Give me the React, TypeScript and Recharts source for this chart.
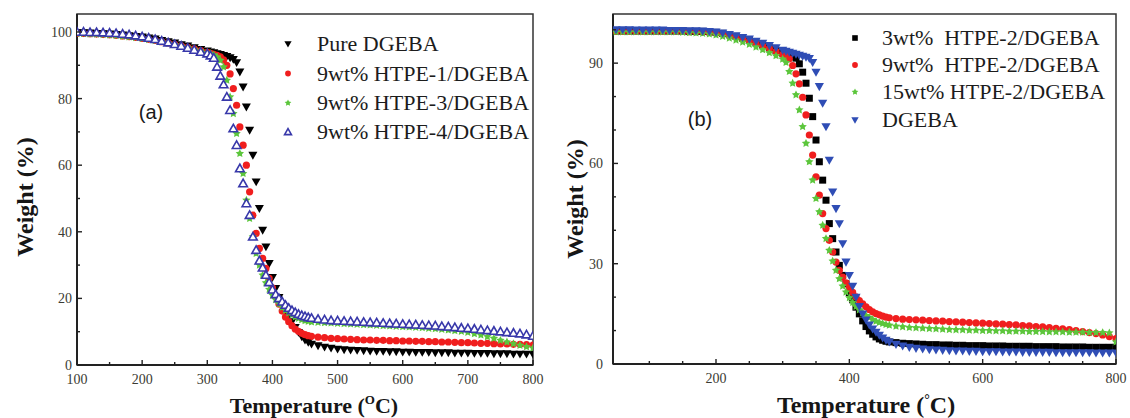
import React from "react";
import { ScatterChart, Scatter, XAxis, YAxis, ReferenceArea, Legend } from "recharts";

const SERIF = "Liberation Serif, Times New Roman, serif";
const SANS = "Liberation Sans, Arial, sans-serif";

// temperatures (°C) of the sampled points
const tempA = [
  100, 110, 120, 130, 140, 150, 160, 170, 180, 190, 200, 210, 220, 230, 240, 250, 260, 270, 280, 290, 300,
  305, 310, 315, 320, 325, 330, 335, 340, 345, 350, 355, 360, 365, 370, 375, 380, 385, 390, 395, 400, 405, 410,
  415, 420, 425, 430, 435, 440, 445, 450, 455, 460,
  470, 480, 490, 500, 510, 520, 530, 540, 550, 560, 570, 580, 590, 600, 610, 620, 630, 640, 650, 660, 670, 680,
  690, 700, 710, 720, 730, 740, 750, 760, 770, 780, 790, 800,
];
const tempB = [50, 60, 70, 80, 90, ...tempA];

// panel (a) weights (%)
const pureA = [
  99.8, 99.8, 99.7, 99.6, 99.5, 99.4, 99.3, 99.1, 98.9, 98.7, 98.5, 98.2, 97.9, 97.5, 97.1, 96.7, 96.2, 95.8, 95.3, 94.8, 94.3,
  94.0, 93.8, 93.5, 93.3, 93.0, 92.7, 92.3, 91.8, 90.8, 88.0, 83.5, 77.5, 70.5, 63.0, 55.0, 47.0,
  40.5, 35.5, 30.5, 26.3, 23.0, 20.3, 18.0, 16.3, 14.8, 13.0, 11.3, 9.8, 8.5, 7.5, 6.8, 6.3,
  5.8, 5.4, 5.1, 4.8, 4.6, 4.5, 4.4, 4.3, 4.2, 4.1, 4.1, 4.0, 4.0, 3.9, 3.9, 3.8, 3.8, 3.8, 3.7, 3.7,
  3.7, 3.6, 3.6, 3.6, 3.5, 3.5, 3.5, 3.4, 3.4, 3.4, 3.3, 3.3, 3.3, 3.2,
];
const htpe1A = [
  99.6, 99.6, 99.5, 99.4, 99.3, 99.2, 99.0, 98.8, 98.6, 98.4, 98.1, 97.8, 97.5, 97.1, 96.7, 96.3, 95.8, 95.4, 94.9, 94.4, 93.9,
  93.6, 93.3, 93.0, 92.5, 91.6, 90.0, 87.4, 83.0, 78.0, 71.5, 66.0, 60.0, 52.0, 45.0, 39.5, 35.0,
  32.0, 29.0, 26.0, 23.2, 20.6, 18.3, 16.2, 14.4, 13.0, 11.8, 10.8, 10.1, 9.5, 9.1, 8.8, 8.6,
  8.4, 8.2, 8.0, 7.9, 7.8, 7.7, 7.6, 7.5, 7.5, 7.4, 7.4, 7.3, 7.3, 7.2, 7.2, 7.1, 7.1, 7.0, 7.0, 6.9,
  6.9, 6.8, 6.7, 6.7, 6.6, 6.5, 6.5, 6.4, 6.3, 6.3, 6.2, 6.2, 6.1, 6.0,
];
const htpe3A = [
  99.5, 99.5, 99.4, 99.3, 99.2, 99.1, 98.9, 98.7, 98.5, 98.3, 98.0, 97.7, 97.4, 97.0, 96.6, 96.2, 95.7, 95.3, 94.8, 94.3, 93.8,
  93.5, 93.1, 92.5, 91.5, 89.5, 85.5, 80.5, 75.5, 69.5, 63.5, 57.5, 49.5, 44.0, 38.5, 33.5, 30.0,
  27.0, 24.7, 22.7, 21.0, 19.6, 18.4, 17.3, 16.4, 15.6, 15.0, 14.4, 14.0, 13.6, 13.3, 13.1, 12.9,
  12.8, 12.7, 12.6, 12.5, 12.4, 12.3, 12.2, 12.1, 12.0, 11.9, 11.8, 11.7, 11.6, 11.5, 11.4, 11.3, 11.2, 11.0, 10.9, 10.7,
  10.5, 10.3, 10.1, 9.8, 9.4, 9.0, 8.5, 8.0, 7.4, 6.9, 6.4, 5.9, 5.5, 5.1,
];
const htpe4A = [
  100.0, 100.0, 99.9, 99.9, 99.8, 99.7, 99.6, 99.4, 99.2, 98.9, 98.6, 98.2, 97.8, 97.3, 96.8, 96.3, 95.8, 95.2, 94.6, 94.0, 93.5,
  92.9, 92.2, 89.5, 86.8, 84.2, 80.5, 76.5, 71.0, 66.0, 59.0, 54.5, 48.5, 45.0, 38.5, 34.5, 31.3,
  29.2, 27.0, 24.8, 22.6, 21.2, 20.0, 19.0, 18.0, 17.1, 16.4, 15.8, 15.3, 14.9, 14.6, 14.3, 14.1,
  13.8, 13.6, 13.4, 13.3, 13.2, 13.1, 13.0, 12.9, 12.8, 12.7, 12.6, 12.5, 12.4, 12.3, 12.2, 12.1, 12.0, 11.9, 11.8, 11.6,
  11.5, 11.3, 11.1, 11.0, 10.8, 10.6, 10.4, 10.2, 10.0, 9.8, 9.6, 9.4, 9.1, 8.7,
];

// panel (b) weights (%)
const wt3B = [
  99.6, 99.6, 99.6, 99.6, 99.6, 99.6, 99.6, 99.6, 99.6, 99.6, 99.6, 99.5, 99.5, 99.5, 99.4, 99.2, 98.9, 98.5, 98.0, 97.4,
  96.8, 96.1, 95.4, 94.6, 93.8, 93.0,
  92.7, 92.4, 92.0, 91.5, 89.8, 87.3, 84.0, 79.5, 74.0, 67.0, 60.5, 55.0, 49.0, 42.0, 37.5, 33.5,
  29.5, 26.5, 24.0, 21.3, 19.2, 17.0, 15.0, 12.9, 11.2, 9.9, 8.9, 8.1, 7.5, 7.1, 6.8, 6.6,
  6.4, 6.2, 6.1, 6.0, 5.9, 5.8, 5.8, 5.7, 5.7, 5.6, 5.6, 5.5, 5.5, 5.5, 5.4, 5.4, 5.4, 5.3, 5.3, 5.3,
  5.3, 5.2, 5.2, 5.2, 5.2, 5.1, 5.1, 5.1, 5.1, 5.0, 5.0, 5.0, 5.0, 5.0,
];
const wt9B = [
  99.5, 99.5, 99.5, 99.5, 99.5, 99.5, 99.5, 99.5, 99.5, 99.5, 99.5, 99.4, 99.4, 99.3, 99.2, 99.0, 98.7, 98.3, 97.8, 97.2,
  96.6, 95.9, 95.2, 94.4, 93.5, 92.6,
  92.0, 91.3, 89.3, 86.8, 83.8, 79.8, 74.5, 68.5, 62.5, 56.0, 50.5, 45.0, 40.5, 37.0, 33.5, 30.5,
  28.0, 26.0, 24.3, 22.8, 21.4, 20.1, 19.0, 18.0, 17.1, 16.3, 15.6, 15.1, 14.7, 14.3, 14.0, 13.8,
  13.6, 13.4, 13.3, 13.2, 13.1, 13.0, 12.9, 12.8, 12.7, 12.6, 12.5, 12.4, 12.3, 12.2, 12.1, 12.0, 11.9, 11.8, 11.7, 11.5,
  11.4, 11.2, 11.1, 10.9, 10.7, 10.5, 10.3, 10.0, 9.7, 9.4, 9.1, 8.7, 8.2, 7.6,
];
const wt15B = [
  99.3, 99.3, 99.3, 99.3, 99.3, 99.3, 99.3, 99.3, 99.3, 99.3, 99.2, 99.1, 99.0, 98.9, 98.7, 98.4, 98.0, 97.5, 96.9, 96.3,
  95.6, 94.8, 94.0, 93.1, 92.2, 91.2,
  90.2, 87.5, 84.0, 80.5, 76.0, 71.0, 66.0, 60.5, 55.0, 49.5, 45.5, 41.5, 37.5, 34.0, 30.8, 28.0,
  25.5, 23.3, 21.5, 19.8, 18.4, 17.2, 16.2, 15.3, 14.5, 13.9, 13.3, 12.8, 12.4, 12.1, 11.8, 11.6,
  11.3, 11.1, 10.9, 10.8, 10.7, 10.6, 10.5, 10.4, 10.3, 10.2, 10.2, 10.1, 10.1, 10.0, 10.0, 9.9, 9.9, 9.8, 9.8, 9.8,
  9.7, 9.7, 9.7, 9.6, 9.6, 9.6, 9.5, 9.5, 9.5, 9.4, 9.4, 9.4, 9.3, 6.6,
];
const dgebaB = [
  100.0, 100.0, 100.0, 99.9, 99.9, 99.9, 99.9, 99.9, 99.8, 99.8, 99.8, 99.7, 99.7, 99.6, 99.5, 99.3, 99.0, 98.6, 98.2, 97.7,
  97.2, 96.6, 96.0, 95.3, 94.6, 93.9,
  93.6, 93.3, 93.0, 92.7, 92.4, 92.1, 91.8, 91.4, 90.2, 87.3, 83.0, 78.0, 71.0, 61.0, 51.5, 46.5,
  42.0, 36.0, 30.5, 26.5, 23.3, 20.0, 17.2, 15.0, 13.2, 11.7, 10.5, 9.5, 8.6, 7.8, 7.1, 6.6,
  5.9, 5.4, 5.0, 4.7, 4.5, 4.3, 4.2, 4.1, 4.0, 3.9, 3.9, 3.8, 3.8, 3.7, 3.7, 3.7, 3.6, 3.6, 3.6, 3.5,
  3.5, 3.5, 3.5, 3.5, 3.4, 3.4, 3.4, 3.4, 3.4, 3.4, 3.3, 3.3, 3.3, 3.3,
];

// ticks: all tick marks, and the ones that carry a label
const ticksXA = [100, 150, 200, 250, 300, 350, 400, 450, 500, 550, 600, 650, 700, 750, 800];
const labelsXA = [100, 200, 300, 400, 500, 600, 700, 800];
const ticksYA = [0, 10, 20, 30, 40, 50, 60, 70, 80, 90, 100];
const labelsYA = [0, 20, 40, 60, 80, 100];
const ticksXB = [100, 150, 200, 250, 300, 350, 400, 450, 500, 550, 600, 650, 700, 750, 800];
const labelsXB = [200, 400, 600, 800];
const ticksYB = [0, 10, 20, 30, 40, 50, 60, 70, 80, 90, 100];
const labelsYB = [0, 30, 60, 90];

const namesA = ["Pure DGEBA", "9wt% HTPE-1/DGEBA", "9wt% HTPE-3/DGEBA", "9wt% HTPE-4/DGEBA"];
const namesB = ["3wt%  HTPE-2/DGEBA", "9wt%  HTPE-2/DGEBA", "15wt% HTPE-2/DGEBA", "DGEBA"];

const toPts = (t: number[], w: number[]) => t.map((x, i) => ({ t: x, w: w[i] }));

type Series = { name: string; data: { t: number; w: number }[]; kind: string; color: string; size: number };

const seriesA: Series[] = [
  { name: namesA[0], data: toPts(tempA, pureA), kind: "down", color: "#000000", size: 4.5 },
  { name: namesA[1], data: toPts(tempA, htpe1A), kind: "circle", color: "#f01e1e", size: 3.6 },
  { name: namesA[2], data: toPts(tempA, htpe3A), kind: "star", color: "#5cc63c", size: 4.4 },
  { name: namesA[3], data: toPts(tempA, htpe4A), kind: "up-open", color: "#3838aa", size: 4.3 },
];
const seriesB: Series[] = [
  { name: namesB[0], data: toPts(tempB, wt3B), kind: "square", color: "#000000", size: 3.5 },
  { name: namesB[1], data: toPts(tempB, wt9B), kind: "circle", color: "#f01e1e", size: 3.6 },
  { name: namesB[2], data: toPts(tempB, wt15B), kind: "star", color: "#5cc63c", size: 4.4 },
  { name: namesB[3], data: toPts(tempB, dgebaB), kind: "down", color: "#2f4db5", size: 4.6 },
];

function Mark({ cx, cy, kind, color, s }: any) {
  if (cx == null || cy == null) return null;
  if (kind === "down")
    return <path d={`M${cx - s},${cy - s * 0.75}L${cx + s},${cy - s * 0.75}L${cx},${cy + s}Z`} fill={color} />;
  if (kind === "up-open")
    return (
      <path
        d={`M${cx - s},${cy + s * 0.75}L${cx + s},${cy + s * 0.75}L${cx},${cy - s}Z`}
        fill="#fff"
        stroke={color}
        strokeWidth={1.6}
      />
    );
  if (kind === "square") return <rect x={cx - s} y={cy - s} width={2 * s} height={2 * s} fill={color} />;
  if (kind === "star") {
    let d = "";
    for (let k = 0; k < 10; k++) {
      const r = k % 2 === 0 ? s : s * 0.5;
      const a = -Math.PI / 2 + (k * Math.PI) / 5;
      d += `${k === 0 ? "M" : "L"}${cx + r * Math.cos(a)},${cy + r * Math.sin(a)}`;
    }
    return <path d={d + "Z"} fill={color} />;
  }
  return <circle cx={cx} cy={cy} r={s} fill={color} />;
}

const XTick = ({ x, y, payload, labels }: any) => {
  const major = labels.includes(payload.value);
  return (
    <g>
      <line x1={x} x2={x} y1={y} y2={y - (major ? 5 : 3)} stroke="#222" strokeWidth={1.4} />
      {major && (
        <text x={x} y={y + 19} textAnchor="middle" style={{ fontFamily: SERIF }} fontSize={14} fill="#3b3b33">
          {payload.value}
        </text>
      )}
    </g>
  );
};

const YTick = ({ x, y, payload, labels, gap }: any) => {
  const major = labels.includes(payload.value);
  return (
    <g>
      <line x1={x} x2={x + (major ? 5 : 3)} y1={y} y2={y} stroke="#222" strokeWidth={1.4} />
      {major && (
        <text x={x - gap} y={y + 5} textAnchor="end" style={{ fontFamily: SERIF }} fontSize={14} fill="#3b3b33">
          {payload.value}
        </text>
      )}
    </g>
  );
};

function XTitle({ px, py, fs, sup, supFs, rise }: any) {
  return (
    <text x={px} y={py} textAnchor="middle" style={{ fontFamily: SERIF }} fontWeight="bold" fontSize={fs} fill="#161616">
      Temperature (<tspan fontSize={supFs} dy={-rise}>{sup}</tspan>
      <tspan dy={rise}>C)</tspan>
    </text>
  );
}

function YTitle({ px, py, fs }: any) {
  return (
    <text
      x={px}
      y={py}
      transform={`rotate(-90, ${px}, ${py})`}
      textAnchor="middle"
      style={{ fontFamily: SERIF }}
      fontWeight="bold"
      fontSize={fs}
      fill="#161616"
    >
      Weight (%)
    </text>
  );
}

function Tag({ px, py, text }: any) {
  return (
    <text x={px} y={py} textAnchor="middle" style={{ fontFamily: SANS }} fontSize={20} fill="#1a1a1a">
      {text}
    </text>
  );
}

function LegendBox({ series, w, h, markerX, textX, rows, fs }: any) {
  return (
    <svg width={w} height={h} style={{ display: "block", overflow: "visible" }}>
      {series.map((s: Series, i: number) => (
        <g key={s.name}>
          <Mark kind={s.kind} cx={markerX} cy={rows[i]} color={s.color} s={s.size * 0.8} />
          <text
            x={textX}
            y={rows[i] + fs * 0.33}
            xmlSpace="preserve"
            style={{ whiteSpace: "pre", fontFamily: SERIF }}
            fontSize={fs}
            fill="#1c1c1c"
          >
            {s.name}
          </text>
        </g>
      ))}
    </svg>
  );
}

type PanelCfg = {
  width: number;
  yAxisWidth: number;
  marginRight: number;
  xAxisHeight: number;
  xDomain: [number, number];
  yDomain: [number, number];
  xTicks: number[];
  xLabels: number[];
  yTicks: number[];
  yLabels: number[];
  yGap: number;
  series: Series[];
  legend: { left: number; top: number; w: number; h: number; markerX: number; textX: number; rows: number[]; fs: number };
  tag: React.ReactElement;
  xTitle: React.ReactElement;
  yTitle: React.ReactElement;
};

function Panel({ cfg }: { cfg: PanelCfg }) {
  const lg = cfg.legend;
  return (
    <ScatterChart width={cfg.width} height={418} margin={{ top: 14, right: cfg.marginRight, bottom: 0, left: 0 }}>
      <XAxis
        type="number"
        dataKey="t"
        domain={cfg.xDomain}
        ticks={cfg.xTicks}
        interval={0}
        allowDataOverflow
        tickSize={0}
        tickMargin={0}
        tickLine={false}
        axisLine={{ stroke: "#222", strokeWidth: 2 }}
        height={cfg.xAxisHeight}
        tick={<XTick labels={cfg.xLabels} />}
        label={cfg.xTitle}
      />
      <YAxis
        type="number"
        dataKey="w"
        domain={cfg.yDomain}
        ticks={cfg.yTicks}
        interval={0}
        allowDataOverflow
        tickSize={0}
        tickMargin={0}
        tickLine={false}
        axisLine={{ stroke: "#222", strokeWidth: 2 }}
        width={cfg.yAxisWidth}
        tick={<YTick labels={cfg.yLabels} gap={cfg.yGap} />}
        label={cfg.yTitle}
      />
      <ReferenceArea
        x1={cfg.xDomain[0]}
        x2={cfg.xDomain[1]}
        y1={cfg.yDomain[0]}
        y2={cfg.yDomain[1]}
        fill="none"
        fillOpacity={0}
        stroke="#333"
        strokeWidth={1.5}
        strokeOpacity={1}
        ifOverflow="visible"
        label={cfg.tag}
      />
      {cfg.series.map((s) => (
        <Scatter
          key={s.name}
          name={s.name}
          data={s.data}
          isAnimationActive={false}
          shape={<Mark kind={s.kind} color={s.color} s={s.size} />}
        />
      ))}
      <Legend
        layout="horizontal"
        verticalAlign="middle"
        align="center"
        wrapperStyle={{ position: "absolute", left: lg.left, top: lg.top, width: lg.w, height: lg.h, margin: 0 }}
        content={
          <LegendBox series={cfg.series} w={lg.w} h={lg.h} markerX={lg.markerX} textX={lg.textX} rows={lg.rows} fs={lg.fs} />
        }
      />
    </ScatterChart>
  );
}

const panelA: PanelCfg = {
  width: 560,
  yAxisWidth: 77,
  marginRight: 27,
  xAxisHeight: 53,
  xDomain: [100, 800],
  yDomain: [0, 105.4],
  xTicks: ticksXA,
  xLabels: labelsXA,
  yTicks: ticksYA,
  yLabels: labelsYA,
  yGap: 5,
  series: seriesA,
  legend: { left: 270, top: 25, w: 262, h: 125, markerX: 18, textX: 47, rows: [19, 48.5, 78, 107], fs: 22 },
  tag: <Tag px={151} py={119} text="(a)" />,
  xTitle: <XTitle px={314} py={413} fs={22} sup="O" supFs={13} rise={9} />,
  yTitle: <YTitle px={33} py={197} fs={24} />,
};

const panelB: PanelCfg = {
  width: 570,
  yAxisWidth: 53,
  marginRight: 14,
  xAxisHeight: 54,
  xDomain: [45.5, 800],
  yDomain: [0, 104.7],
  xTicks: ticksXB,
  xLabels: labelsXB,
  yTicks: ticksYB,
  yLabels: labelsYB,
  yGap: 10,
  series: seriesB,
  legend: { left: 280, top: 20, w: 275, h: 120, markerX: 15, textX: 42, rows: [18, 45, 72, 100], fs: 22 },
  tag: <Tag px={140} py={126} text="(b)" />,
  xTitle: <XTitle px={306} py={413} fs={24} sup="°" supFs={14} rise={9} />,
  yTitle: <YTitle px={23} py={199} fs={24} />,
};

export default function App() {
  return (
    <div style={{ position: "absolute", left: 0, top: 0, width: 1130, height: 418, background: "#fff" }}>
      <div style={{ position: "absolute", left: 0, top: 0 }}>
        <Panel cfg={panelA} />
      </div>
      <div style={{ position: "absolute", left: 560, top: 0 }}>
        <Panel cfg={panelB} />
      </div>
    </div>
  );
}
